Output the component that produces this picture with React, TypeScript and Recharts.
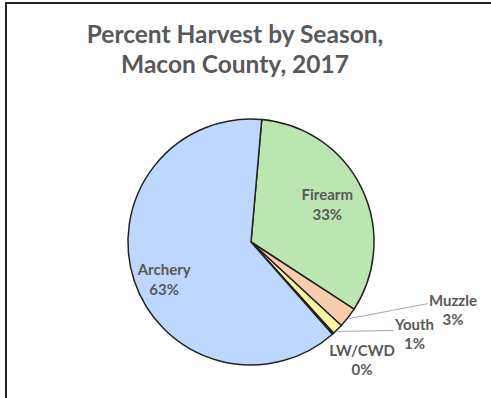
import React from "react";
import { PieChart, Pie, Cell } from "recharts";

const categories = ["Firearm", "Muzzle", "Youth", "LW/CWD", "Archery"];
const values = [32.8, 2.7, 1.4, 0.2, 62.9];
const percentLabels = ["33%", "3%", "1%", "0%", "63%"];
const colors = ["#BBE6B1", "#F9CEAE", "#F9F6A6", "#F0F0F0", "#BDD7FE"];
const titleLines = ["Percent Harvest by Season,", "Macon County, 2017"];

const data = categories.map((name, i) => ({ name, value: values[i], label: percentLabels[i] }));

const RAD = Math.PI / 180;
const FONT = "Lato, 'Open Sans', sans-serif";
const TEXT = "#595959";

const renderLabel = (props: any) => {
  const { cx, cy, midAngle, outerRadius, index } = props;
  const name = categories[index];
  const pct = percentLabels[index];
  const cos = Math.cos(-midAngle * RAD);
  const sin = Math.sin(-midAngle * RAD);
  const ex = cx + outerRadius * cos;
  const ey = cy + outerRadius * sin;
  const common = { fill: TEXT, fontFamily: FONT, fontWeight: 700, fontSize: 15, textAnchor: "middle" as const };
  if (name === "Firearm" || name === "Archery") {
    const f = name === "Firearm" ? 0.69 : 0.76;
    const dy = name === "Archery" ? 9 : 0;
    const dx = name === "Archery" ? 2 : 0;
    const x = cx + outerRadius * f * cos + dx;
    const y = cy + outerRadius * f * sin + dy;
    return (
      <text key={name} {...common}>
        <tspan x={x} y={y - 10 + 5}>{name}</tspan>
        <tspan x={x} y={y + 10 + 5}>{pct}</tspan>
      </text>
    );
  }
  if (name === "Muzzle") {
    const lx = ex + 80;
    const ly = ey - 14;
    return (
      <g key={name}>
        <polyline points={`${ex + 1},${ey + 1} ${lx},${ly}`} stroke="#A6A6A6" strokeWidth={1} fill="none" />
        <text {...common}>
          <tspan x={lx + 25} y={ly + 2}>{name}</tspan>
          <tspan x={lx + 25} y={ly + 21}>{pct}</tspan>
        </text>
      </g>
    );
  }
  if (name === "Youth") {
    const lx = ex + 56;
    const ly = ey + 1;
    return (
      <g key={name}>
        <polyline points={`${ex},${ey + 2} ${lx},${ly}`} stroke="#A6A6A6" strokeWidth={1} fill="none" />
        <text {...common}>
          <tspan x={lx + 21} y={ly}>{name}</tspan>
          <tspan x={lx + 21} y={ly + 19}>{pct}</tspan>
        </text>
      </g>
    );
  }
  const x = ex + 29;
  return (
    <text key={name} {...common}>
      <tspan x={x} y={ey + 22}>{name}</tspan>
      <tspan x={x} y={ey + 41}>{pct}</tspan>
    </text>
  );
};

export default function App() {
  return (
    <div style={{ position: "absolute", left: 0, top: 0, width: 491, height: 398, background: "#fff", overflow: "hidden" }}>
      <div
        style={{
          position: "absolute",
          left: 5,
          top: 2,
          width: 500,
          height: 420,
          borderLeft: "2px solid #222",
          borderTop: "2px solid #222",
        }}
      />
      <div
        style={{
          position: "absolute",
          left: 0,
          top: 19,
          width: 470,
          textAlign: "center",
          fontFamily: FONT,
          fontWeight: 700,
          fontSize: 24.5,
          lineHeight: "30px",
          color: TEXT,
        }}
      >
        <div>{titleLines[0]}</div>
        <div>{titleLines[1]}</div>
      </div>
      <div style={{ position: "absolute", left: 0, top: 0 }}>
        <PieChart width={491} height={398} margin={{ top: 0, right: 0, bottom: 0, left: 0 }}>
          <Pie
            data={data}
            dataKey="value"
            nameKey="name"
            cx={251}
            cy={242}
            outerRadius={123}
            startAngle={85}
            endAngle={-275}
            stroke="#222"
            strokeWidth={1.5}
            label={renderLabel}
            labelLine={false}
            isAnimationActive={false}
          >
            {data.map((d, i) => (
              <Cell key={d.name} fill={colors[i]} />
            ))}
          </Pie>
        </PieChart>
      </div>
    </div>
  );
}
